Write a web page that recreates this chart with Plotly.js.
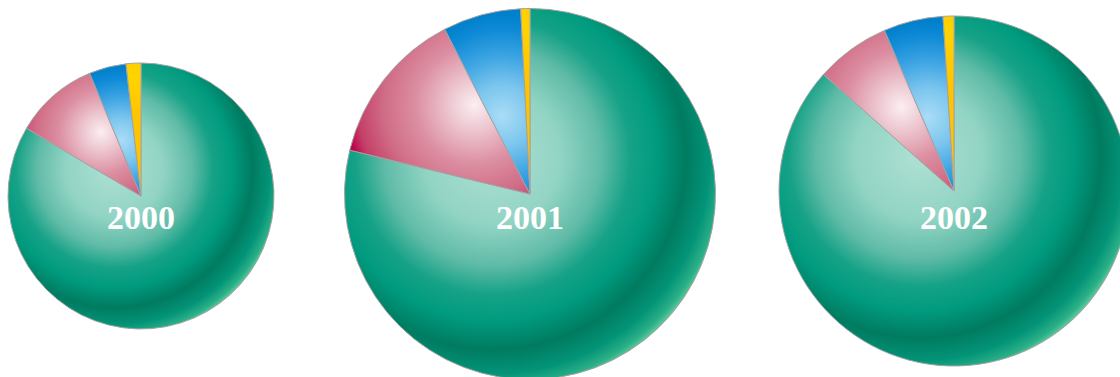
<!DOCTYPE html>
<html><head><meta charset="utf-8">
<script src="https://cdn.plot.ly/plotly-3.0.1.min.js"></script>
<style>html,body{margin:0;padding:0;overflow:hidden;background:#fff}#chart{width:1140px;height:400px}</style>
</head><body><div id="chart"></div>
<script>
// ---- data ----
const years = ['2000', '2001', '2002'];
const categories = ['Category A', 'Category B', 'Category C', 'Category D'];
const shares2000 = [83.5, 10.2, 4.5, 1.8];
const shares2001 = [78.8, 13.6, 6.8, 0.8];
const shares2002 = [86.6, 6.9, 5.5, 1.0];
const seriesValues = [shares2000, shares2001, shares2002];

// ---- layout geometry (pixels) ----
const W = 1140, H = 400;
const pieCenters = [[141, 196], [530, 194], [954, 191]];
const pieRadii = [133, 185.5, 175];
const labelY = 217.5;

const baseColors = ['#14a088', '#d06c86', '#1a90d8', '#ffc800'];

const traces = seriesValues.map((vals, i) => {
  const [cx, cy] = pieCenters[i], r = pieRadii[i];
  return {
    type: 'pie', labels: categories, values: vals, sort: false,
    direction: 'clockwise', rotation: 0, textinfo: 'none', hoverinfo: 'none',
    showlegend: false,
    marker: {colors: baseColors, line: {color: '#a3a3a3', width: 1}},
    domain: {x: [(cx - r) / W, (cx + r) / W], y: [(H - cy - r) / H, (H - cy + r) / H]}
  };
});

const annotations = years.map((y, i) => ({
  text: '<b>' + y + '</b>', x: pieCenters[i][0] / W, y: (H - labelY) / H,
  xref: 'paper', yref: 'paper', xanchor: 'center', yanchor: 'middle', showarrow: false,
  font: {family: 'Liberation Serif, serif', size: 34, color: '#ffffff'}
}));

const layout = {
  width: W, height: H, margin: {l: 0, r: 0, t: 0, b: 0},
  paper_bgcolor: '#ffffff', plot_bgcolor: '#ffffff', annotations: annotations
};

const gradSpecs = [
  {c: [-0.2, -0.2], r: 1.3, stops: [[0, '#aee0d3'], [0.28, '#92d4c4'], [0.45, '#5fbba7'], [0.57, '#16a287'], [0.68, '#009b7f'], [0.8, '#007b60'], [0.9, '#039478'], [0.96, '#2bb088'], [1, '#7dd6a6']]},
  {c: [-0.3, -0.48], r: 0.7, stops: [[0, '#fbeef1'], [0.15, '#f0d0d8'], [0.45, '#dc8fa2'], [0.7, '#d06c86'], [0.9, '#c53f68'], [1, '#b8004a']]},
  {c: [-0.15, -0.42], r: 0.55, stops: [[0, '#aadcf6'], [0.3, '#7cc6ee'], [0.6, '#3aa3e2'], [0.85, '#0f8ad6'], [1, '#0080cc']]},
  {c: [-0.05, -0.9], r: 0.3, stops: [[0, '#ffd400'], [1, '#ffc400']]}
];

Plotly.newPlot('chart', traces, layout, {staticPlot: true, displayModeBar: false}).then(gd => {
  const ns = 'http://www.w3.org/2000/svg';
  const svg = gd.querySelector('.main-svg');
  let defs = svg.querySelector('defs');
  if (!defs) { defs = document.createElementNS(ns, 'defs'); svg.insertBefore(defs, svg.firstChild); }
  const traceGroups = gd.querySelectorAll('.pielayer .trace');
  traceGroups.forEach((tg, ti) => {
    const paths = tg.querySelectorAll('.slice path.surface');
    if (!paths.length) return;
    const bb = paths[0].getBBox();
    const cx = bb.x + bb.width / 2, cy = bb.y + bb.height / 2, r = bb.width / 2;
    paths.forEach((p, si) => {
      const spec = gradSpecs[si];
      const id = 'g' + ti + '_' + si;
      const g = document.createElementNS(ns, 'radialGradient');
      g.setAttribute('id', id);
      g.setAttribute('gradientUnits', 'userSpaceOnUse');
      g.setAttribute('cx', cx + spec.c[0] * r);
      g.setAttribute('cy', cy + spec.c[1] * r);
      g.setAttribute('fx', cx + spec.c[0] * r);
      g.setAttribute('fy', cy + spec.c[1] * r);
      g.setAttribute('r', spec.r * r);
      spec.stops.forEach(([o, col]) => {
        const s = document.createElementNS(ns, 'stop');
        s.setAttribute('offset', o);
        s.setAttribute('stop-color', col);
        g.appendChild(s);
      });
      defs.appendChild(g);
      p.style.fill = 'url(#' + id + ')';
    });
  });
});
</script>
</body></html>
